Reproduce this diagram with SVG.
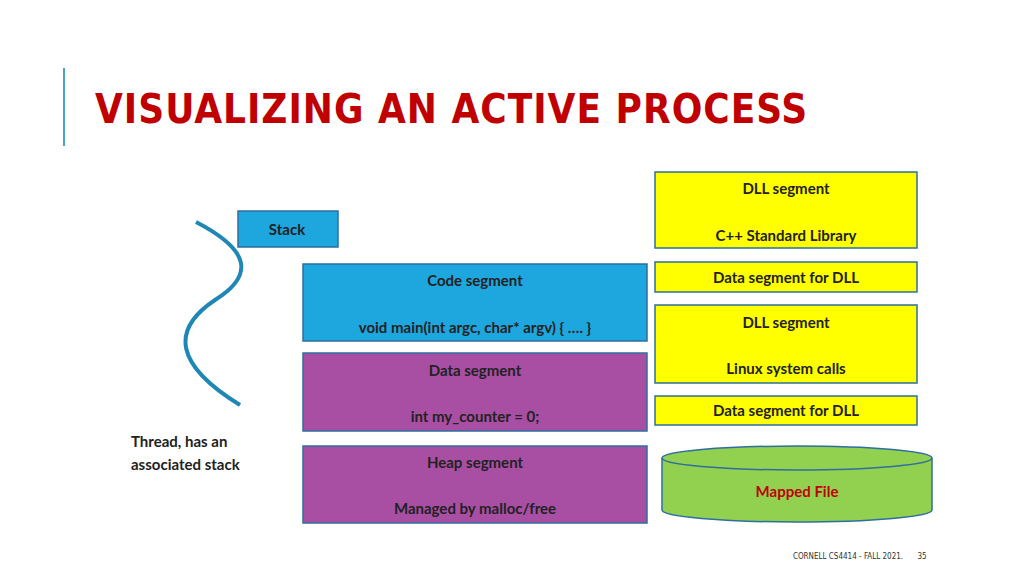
<svg xmlns="http://www.w3.org/2000/svg" width="1024" height="576" viewBox="0 0 1024 576">
<style>
.t{font-family:Lato,"Liberation Sans",sans-serif;font-weight:bold;font-size:15px;fill:#222;text-anchor:middle}
.blue{fill:#1EA6DE;stroke:#2F6E9E;stroke-width:1.5}
.purple{fill:#A84FA4;stroke:#2F6E9E;stroke-width:1.5}
.yellow{fill:#FFFF00;stroke:#2F6E9E;stroke-width:1.5}
</style>
<rect width="1024" height="576" fill="#fff"/>
<line x1="64" y1="68" x2="64" y2="146" stroke="#4AA3C0" stroke-width="2"/>
<text x="95" y="123" font-family="'DejaVu Sans Condensed','DejaVu Sans',sans-serif" font-stretch="condensed" font-weight="bold" font-size="40" fill="#C00000" letter-spacing="1">VISUALIZING AN ACTIVE PROCESS</text>
<g id="connectors">
<path d="M196,222 C250,250 255,275 215,300 C170,330 175,365 240,405" fill="none" stroke="#1F87B5" stroke-width="4"/>
</g>
<g id="dll1"><rect class="yellow" x="655" y="172" width="262" height="76"/><text class="t" x="786" y="194">DLL segment</text><text class="t" x="786" y="241">C++ Standard Library</text></g>
<g id="stack"><rect class="blue" x="238" y="211" width="100" height="36"/><text class="t" x="287" y="235">Stack</text></g>
<g id="code"><rect class="blue" x="303" y="264" width="344" height="77"/><text class="t" x="475" y="286">Code segment</text><text class="t" x="475" y="333">void main(int argc, char* argv) { …. }</text></g>
<g id="dlldata1"><rect class="yellow" x="655" y="262" width="262" height="30"/><text class="t" x="786" y="283">Data segment for DLL</text></g>
<g id="dll2"><rect class="yellow" x="655" y="305" width="262" height="78"/><text class="t" x="786" y="328">DLL segment</text><text class="t" x="786" y="374">Linux system calls</text></g>
<g id="data"><rect class="purple" x="303" y="353" width="344" height="78"/><text class="t" x="475" y="376">Data segment</text><text class="t" x="475" y="422">int my_counter = 0;</text></g>
<g id="dlldata2"><rect class="yellow" x="655" y="396" width="262" height="29"/><text class="t" x="786" y="416">Data segment for DLL</text></g>
<g id="heap"><rect class="purple" x="303" y="446" width="344" height="77"/><text class="t" x="475" y="468">Heap segment</text><text class="t" x="475" y="514">Managed by malloc/free</text></g>
<g id="mapped">
<path d="M662,458 L662,510 A135,12 0 0 0 932,510 L932,458" fill="#92D050" stroke="#2F6E9E" stroke-width="1.5"/>
<ellipse cx="797" cy="458" rx="135" ry="12" fill="#92D050" stroke="#2F6E9E" stroke-width="1.5"/>
<text class="t" x="797" y="497" style="fill:#C00000">Mapped File</text></g>
<g id="thread"><text class="t" x="131" y="447" style="text-anchor:start">Thread, has an</text><text class="t" x="131" y="470" style="text-anchor:start">associated stack</text></g>
<text x="848" y="559" font-family="'DejaVu Sans Condensed',sans-serif" font-size="8" fill="#333" text-anchor="middle">CORNELL CS4414 - FALL 2021.</text>
<text x="922" y="559" font-family="'DejaVu Sans Condensed',sans-serif" font-size="8" fill="#333" text-anchor="middle">35</text>
</svg>
